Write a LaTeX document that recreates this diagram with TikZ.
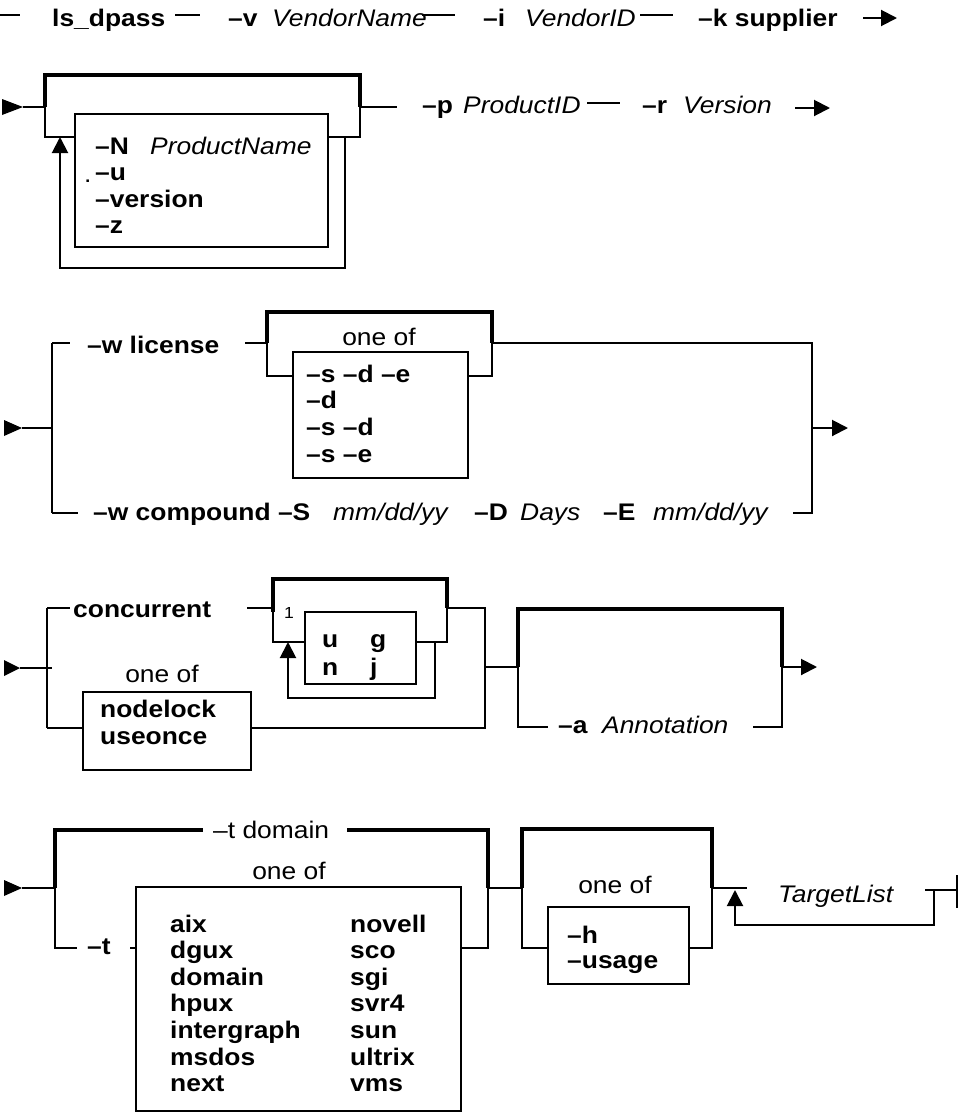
\documentclass[tikz,border=0pt]{standalone}
\usepackage{fontspec}
\setmainfont[FakeStretch=1.1]{Liberation Sans}
\usetikzlibrary{arrows.meta}
\newcommand\railfont{\fontsize{24}{26.6}\selectfont}
\tikzset{
  rail/.style={line width=2pt},
  heavy/.style={line width=4.5pt},
  optbox/.style={draw, line width=2pt},
  tip/.style={-{Triangle[length=16pt,width=16pt]}},
  kw/.style={font=\railfont\bfseries, anchor=base west, inner sep=0pt},
  arg/.style={font=\railfont\itshape, anchor=base west, inner sep=0pt},
  lbl/.style={font=\railfont, anchor=base, inner sep=0pt},
  entry/.style={fill=black}
}
\begin{document}
\begin{tikzpicture}[x=1pt,y=-1pt]
\useasboundingbox (0,0) rectangle (959,1112);

% ---------- ls_dpass -v -i -k ----------
\draw[rail] (0,15) -- (20,15);
\node[kw] (cmd) at (52,26) {ls\_dpass};
\draw[rail] (175,15) -- (200,15);
\node[kw] (optv) at (228,26) {–v};
\node[arg] (vname) at (272,26) {VendorName};
\draw[rail] (422,15) -- (455,15);
\node[kw] (opti) at (483,26) {–i};
\node[arg] (vid) at (525,26) {VendorID};
\draw[rail] (640,15) -- (673,15);
\node[kw] (optk) at (698,26) {–k supplier};
\coordinate (e1a) at (863,18);
\coordinate (e1b) at (897,18);
\draw[rail,tip] (e1a) -- (e1b);

% ---------- repeated product options, -p, -r ----------
\fill[entry] (2,99) -- (23,107) -- (2,115) -- cycle;
\draw[rail] (23,107) -- (45,107);
\draw[heavy] (45,107) -- (45,75) -- (360,75) -- (360,107);
\node[optbox, minimum width=253pt, minimum height=133pt, anchor=north west] (pbox) at (74,113) {};
\draw[rail] (45,107) -- (45,137) -- (74,137);
\draw[rail] (327,137) -- (360,137) -- (360,107);
\draw[rail,tip] (345,137) -- (345,268) -- (60,268) -- (60,137);
\node[kw] (optN) at (95,154) {–N};
\node[arg] (pname) at (150,154) {ProductName};
\node[lbl, anchor=base west] (dot) at (84,182) {.};
\node[kw] (optu) at (95,180) {–u};
\node[kw] (optver) at (95,207) {–version};
\node[kw] (optz) at (95,233) {–z};
\draw[rail] (360,107) -- (397,107);
\node[kw] (optp) at (422,113) {–p};
\node[arg] (pid) at (463,113) {ProductID};
\draw[rail] (587,103) -- (620,103);
\node[kw] (optr) at (642,113) {–r};
\node[arg] (ver) at (683,113) {Version};
\draw[rail,tip] (795,108) -- (830,108);

% ---------- -w license / -w compound ----------
\fill[entry] (4,420) -- (22,428) -- (4,436) -- cycle;
\draw[rail] (22,428) -- (52,428);
\draw[rail] (52,343) -- (52,513);
\draw[rail] (52,343) -- (70,343);
\node[kw] (wlic) at (87,353) {–w license};
\draw[rail] (245,343) -- (267,343);
\draw[heavy] (267,343) -- (267,312) -- (492,312) -- (492,343);
\node[lbl] (oneof1) at (379,345) {one of};
\node[optbox, minimum width=175pt, minimum height=126pt, anchor=north west] (sbox) at (292,351) {};
\draw[rail] (267,343) -- (267,376) -- (292,376);
\draw[rail] (467,376) -- (492,376) -- (492,343);
\node[kw] (s1) at (306,382) {–s –d –e};
\node[kw] (s2) at (306,408) {–d};
\node[kw] (s3) at (306,435) {–s –d};
\node[kw] (s4) at (306,462) {–s –e};
\draw[rail] (492,343) -- (812,343) -- (812,513) -- (793,513);
\draw[rail] (52,513) -- (78,513);
\node[kw] (wcomp) at (93,520) {–w compound –S};
\node[arg] (sdate) at (333,520) {mm/dd/yy};
\node[kw] (optD) at (474,520) {–D};
\node[arg] (days) at (520,520) {Days};
\node[kw] (optE) at (603,520) {–E};
\node[arg] (edate) at (653,520) {mm/dd/yy};
\draw[rail,tip] (813,428) -- (848,428);

% ---------- concurrent / nodelock, -a ----------
\fill[entry] (4,660) -- (20,668) -- (4,676) -- cycle;
\draw[rail] (20,668) -- (52,668);
\draw[rail] (47,608) -- (47,728);
\draw[rail] (47,608) -- (70,608);
\node[kw] (conc) at (73,617) {concurrent};
\draw[rail] (247,608) -- (273,608);
\draw[heavy] (273,612) -- (273,579) -- (447,579) -- (447,608);
\node[font=\fontsize{16}{18}\selectfont, anchor=base west, inner sep=0pt] (one) at (284,618) {1};
\node[optbox, minimum width=111pt, minimum height=72pt, anchor=north west] (ubox) at (304,611) {};
\draw[rail] (273,608) -- (273,642) -- (304,642);
\draw[rail] (415,642) -- (447,642) -- (447,608);
\draw[rail,tip] (435,642) -- (435,698) -- (288,698) -- (288,642);
\node[kw] (cu) at (322,647) {u};
\node[kw] (cg) at (370,647) {g};
\node[kw] (cn) at (322,675) {n};
\node[kw] (cj) at (370,675) {j};
\draw[rail] (447,608) -- (485,608) -- (485,728) -- (250,728);
\node[lbl] (oneof2) at (162,682) {one of};
\node[optbox, minimum width=168pt, minimum height=78pt, anchor=north west] (nbox) at (82,691) {};
\draw[rail] (47,728) -- (82,728);
\node[kw] (nl1) at (100,717) {nodelock};
\node[kw] (nl2) at (100,744) {useonce};
\draw[rail] (485,667) -- (518,667);
\draw[heavy] (518,667) -- (518,609) -- (782,609) -- (782,667);
\draw[rail] (518,667) -- (518,727) -- (548,727);
\node[kw] (opta) at (558,733) {–a};
\node[arg] (annot) at (602,733) {Annotation};
\draw[rail] (753,727) -- (782,727) -- (782,667);
\draw[rail,tip] (782,667) -- (817,667);

% ---------- -t domain, -h / -usage, TargetList ----------
\fill[entry] (4,880) -- (22,888) -- (4,896) -- cycle;
\draw[rail] (22,888) -- (55,888);
\draw[heavy] (55,888) -- (55,830) -- (203,830);
\node[lbl, anchor=base west] (tdom) at (213,838) {–t domain};
\draw[heavy] (347,830) -- (488,830) -- (488,888);
\draw[rail] (55,888) -- (55,948) -- (77,948);
\node[kw] (optt) at (87,954) {–t};
\draw[rail] (130,948) -- (135,948);
\node[lbl] (oneof3) at (289,879) {one of};
\node[optbox, minimum width=325pt, minimum height=224pt, anchor=north west] (tbox) at (135,886) {};
\draw[rail] (460,948) -- (488,948) -- (488,888);
\foreach \l [count=\i from 0] in {aix,dgux,domain,hpux,intergraph,msdos,next}
  \node[kw] (tl\i) at (170,932+26.6*\i) {\l};
\foreach \l [count=\i from 0] in {novell,sco,sgi,svr4,sun,ultrix,vms}
  \node[kw] (tr\i) at (350,932+26.6*\i) {\l};
\draw[rail] (488,888) -- (522,888);
\draw[heavy] (522,888) -- (522,829) -- (712,829) -- (712,888);
\node[lbl] (oneof4) at (615,893) {one of};
\node[optbox, minimum width=141pt, minimum height=77pt, anchor=north west] (hbox) at (547,906) {};
\draw[rail] (522,888) -- (522,948) -- (547,948);
\draw[rail] (688,948) -- (712,948) -- (712,888);
\node[kw] (opth) at (567,943) {–h};
\node[kw] (optus) at (567,968) {–usage};
\draw[rail] (712,888) -- (747,888);
\node[arg] (tlist) at (778,902) {TargetList};
\draw[rail,tip] (934,890) -- (934,925) -- (735,925) -- (735,890);
\draw[rail] (925,890) -- (957,890);
\draw[rail] (957,875) -- (957,908);
\end{tikzpicture}
\end{document}
